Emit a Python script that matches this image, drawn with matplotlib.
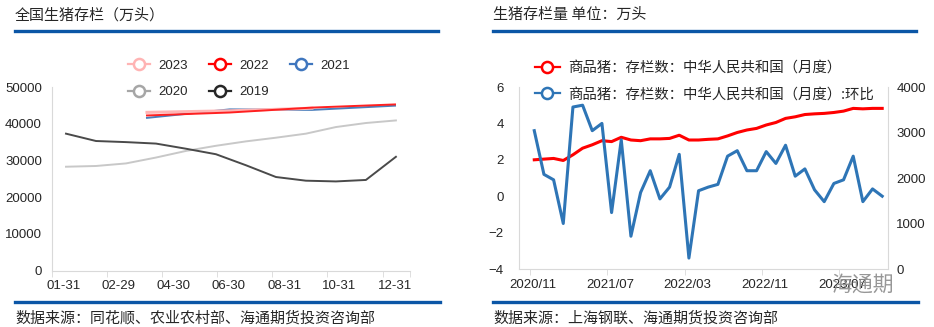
import numpy as np
import matplotlib
matplotlib.use("Agg")
import matplotlib.pyplot as plt
from matplotlib.lines import Line2D

W, H = 934, 327
CJK = ["Noto Sans CJK SC", "DejaVu Sans"]
NUM = ["Liberation Sans", "DejaVu Sans"]
BLUE_BAR = "#0B56A6"
TXT = "#262626"

# ---- left chart data (万头) ----
month_labels = ["01-31", "02-29", "04-30", "06-30", "08-31", "10-31", "12-31"]
months = np.arange(12)
y2019 = [37300, 35300, 35000, 34600, 33200, 31700, 28700, 25500, 24500, 24300, 24700, 31000]
y2020 = [28300, 28500, 29200, 30800, 32600, 34000, 35200, 36200, 37300, 39100, 40200, 40900]
quarter_x = [2.7, 5.46, 8.2, 10.97]
y2021 = [41595, 43911, 43764, 44922]
y2022 = [42253, 43057, 44394, 45256]
y2023 = [43094, 43517, 44229]

# ---- right chart data ----
date_labels = ["2020/11", "2021/07", "2022/03", "2022/11", "2023/07"]
m_idx = np.arange(37)
stock = [2400, 2415, 2430, 2385, 2510, 2655, 2730, 2820, 2800, 2895, 2835, 2820, 2860,
         2860, 2870, 2940, 2835, 2835, 2850, 2860, 2925, 3000, 3055, 3090, 3165, 3220,
         3310, 3345, 3395, 3410, 3420, 3440, 3470, 3530, 3520, 3530, 3530]
mom = [3.6, 1.2, 0.9, -1.5, 4.9, 5.0, 3.6, 4.0, -0.9, 3.1, -2.2, 0.2, 1.4, -0.15, 0.5,
       2.3, -3.4, 0.3, 0.5, 0.65, 2.2, 2.5, 1.4, 1.4, 2.45, 1.8, 2.8, 1.1, 1.5, 0.35,
       -0.3, 0.7, 0.9, 2.2, -0.3, 0.4, 0.0]


def fx(x):
    return x / W


def fy(y):
    return 1 - y / H


def frame(x0, x1, title, source):
    # title, blue rules and source note around each panel
    fig.text(fx(x0), fy(15), title, family=CJK, fontsize=10.8, color=TXT, va="center")
    fig.add_artist(Line2D([fx(x0), fx(x1)], [fy(31), fy(31)], color=BLUE_BAR, lw=2.4))
    fig.add_artist(Line2D([fx(x0), fx(x1 + 2)], [fy(302), fy(302)], color=BLUE_BAR, lw=2.4))
    fig.text(fx(x0), fy(318), source, family=CJK, fontsize=10.8, color=TXT, va="center")


def style_axes(ax, ypad):
    for s in ["top", "right"]:
        ax.spines[s].set_visible(False)
    for s in ["left", "bottom"]:
        ax.spines[s].set_color("#D9D9D9")
    ax.tick_params(axis="y", length=0, labelsize=9.5, colors=TXT, pad=ypad)
    ax.tick_params(axis="x", which="minor", length=4, color="#D9D9D9")
    ax.tick_params(axis="x", which="major", length=0, labelsize=9.5, colors=TXT, pad=7)
    for lb in ax.get_xticklabels() + ax.get_yticklabels():
        lb.set_family(NUM)


def leg_handle(color):
    return Line2D([], [], color=color, lw=1.6, marker="o", markersize=8,
                  markerfacecolor="white", markeredgewidth=1.8)


fig = plt.figure(figsize=(W / 100, H / 100), dpi=100)

# ================= left panel =================
frame(15, 438, "全国生猪存栏（万头）", "数据来源：同花顺、农业农村部、海通期货投资咨询部")
ax1 = fig.add_axes([fx(51.7), fy(270.7), fx(410 - 51.7), 183.7 / H])
ax1.plot(months, y2020, color="#C8C8C8", lw=1.4)
ax1.plot(months, y2019, color="#4A4A4A", lw=1.4)
ax1.plot(quarter_x, y2021, color="#4A7EBB", lw=1.4)
ax1.plot(quarter_x[:3], y2023, color="#FFB4B4", lw=2.2)
ax1.plot(quarter_x, y2022, color="#FF2020", lw=1.4)
ax1.set_xlim(-0.477, 11.47)
ax1.set_ylim(0, 50000)
ax1.set_yticks(np.arange(0, 50001, 10000))
tick_pos = [-0.477, 1.357, 3.19, 5.02, 6.88, 8.71, 10.58, 11.47]
ax1.set_xticks(tick_pos, minor=True)
ax1.set_xticks([p + 0.4 for p in tick_pos[:7]])
ax1.set_xticklabels(month_labels)
style_axes(ax1, 7)

names = ["2023", "2022", "2021", "2020", "2019"]
cols = ["#FFB4B4", "#FF0000", "#3F76BE", "#A6A6A6", "#262626"]
order = [0, 3, 1, 4, 2]
leg1 = fig.legend([leg_handle(cols[i]) for i in order], [names[i] for i in order],
                  ncol=3, loc="upper left", bbox_to_anchor=(fx(116), fy(48)),
                  frameon=False, handlelength=1.7, handletextpad=0.6,
                  columnspacing=1.6, labelspacing=1.05,
                  prop={"family": NUM, "size": 9.5})
for t in leg1.get_texts():
    t.set_color(TXT)

# ================= right panel =================
frame(493, 916, "生猪存栏量 单位：万头", "数据来源：上海钢联、海通期货投资咨询部")
ax2 = fig.add_axes([fx(519), fy(269), fx(888 - 519), 182 / H])
ax3 = ax2.twinx()
ax3.plot(m_idx, stock, color="#FF0000", lw=2.2)
ax2.plot(m_idx, mom, color="#2E75B6", lw=2.2, zorder=3)
ax2.set_zorder(ax3.get_zorder() + 1)
ax2.patch.set_visible(False)
ax2.set_xlim(-1.58, 36.6)
ax2.set_ylim(-4, 6)
ax2.set_yticks(np.arange(-4, 7, 2))
ax3.set_ylim(0, 4000)
ax3.set_yticks(np.arange(0, 4001, 1000))
dtick = [-0.45 + 8 * k for k in range(5)]
ax2.set_xticks(dtick, minor=True)
ax2.set_xticks([d + 0.3 for d in dtick])
ax2.set_xticklabels(date_labels)
style_axes(ax2, 11)
for s in ["top", "left", "bottom"]:
    ax3.spines[s].set_visible(False)
ax3.spines["right"].set_color("#D9D9D9")
ax3.tick_params(axis="y", length=0, labelsize=9.5, colors=TXT, pad=6)
for lb in ax3.get_yticklabels():
    lb.set_family(NUM)

h_red = leg_handle("#FF0000")
h_blue = leg_handle("#2E75B6")
leg2 = fig.legend([h_red, h_blue],
                  ["商品猪：存栏数：中华人民共和国（月度）",
                   "商品猪：存栏数：中华人民共和国（月度）:环比"],
                  loc="upper left", bbox_to_anchor=(fx(522), fy(48)),
                  frameon=False, handlelength=1.7, handletextpad=0.6,
                  labelspacing=0.85, prop={"family": CJK, "size": 10.4})
for t in leg2.get_texts():
    t.set_color(TXT)

# watermark
fig.text(fx(862), fy(285), "海通期", family=CJK, fontsize=15, color="#8C8C8C",
         ha="center", va="center", alpha=0.9)

fig.savefig("out.png", dpi=100)
